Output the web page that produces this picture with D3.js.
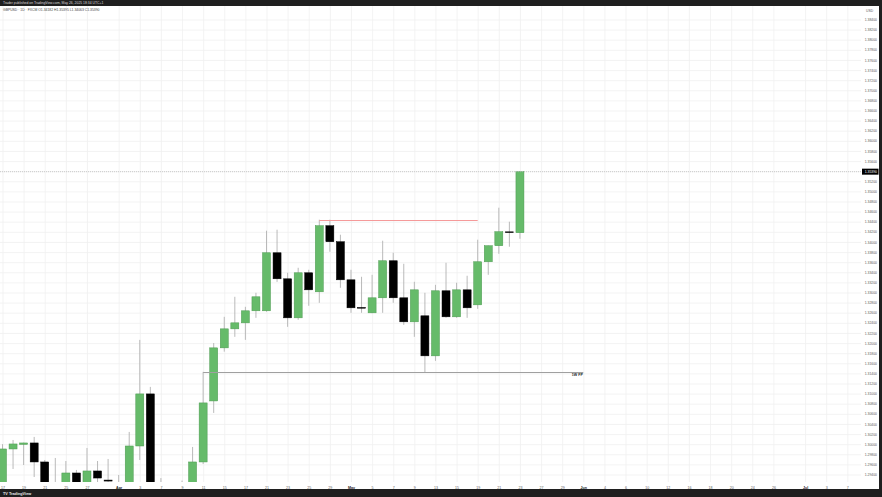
<!DOCTYPE html>
<html>
<head>
<meta charset="utf-8">
<script src="https://cdn.jsdelivr.net/npm/d3@7"></script>
<style>
  body { margin: 0; background: #1e1e1e; }
  svg { display: block; font-family: "Liberation Sans", Arial, sans-serif; }
</style>
</head>
<body>
<div id="viz"></div>
<script>
// GBPUSD daily candles, Mar 17 -> May 23 2025 (one value per trading day)
var opens = [
  1.29180, 1.29905, 1.29995, 1.30024, 1.29648,
  1.29160, 1.29200, 1.29430, 1.28900, 1.29470,
  1.29290, 1.29160, 1.29170, 1.29964, 1.30994,
  1.28900, 1.27230, 1.27650, 1.28000, 1.29648,
  1.30855, 1.31905, 1.32281, 1.32400, 1.32638,
  1.32638, 1.33786, 1.33271, 1.32499, 1.33390,
  1.33014, 1.34321, 1.34004, 1.33251, 1.32705,
  1.32598, 1.32895, 1.33628, 1.32895, 1.32420,
  1.32539, 1.31747, 1.33034, 1.32519, 1.33053,
  1.32756, 1.33608, 1.33925, 1.34200, 1.34182
]
var highs = [
  1.30000, 1.30083, 1.30030, 1.30143, 1.29687,
  1.29727, 1.29667, 1.29490, 1.29925, 1.29667,
  1.29707, 1.29390, 1.30242, 1.32063, 1.31133,
  1.29330, 1.28800, 1.29280, 1.29945, 1.31430,
  1.32000, 1.32519, 1.32915, 1.32717, 1.32994,
  1.34222, 1.34242, 1.33390, 1.33489, 1.33450,
  1.34440, 1.34440, 1.34143, 1.33450, 1.33311,
  1.33350, 1.34024, 1.33786, 1.33568, 1.33212,
  1.32994, 1.33152, 1.33588, 1.33192, 1.33331,
  1.34044, 1.33930, 1.34677, 1.34400, 1.35395
]
var lows = [
  1.29050, 1.29509, 1.29588, 1.29350, 1.28860,
  1.28900, 1.29100, 1.28600, 1.28700, 1.29150,
  1.29000, 1.28770, 1.28750, 1.29687, 1.28600,
  1.27110, 1.27120, 1.27090, 1.27900, 1.29608,
  1.30618, 1.31830, 1.32123, 1.32063, 1.32499,
  1.32620, 1.33210, 1.32321, 1.32460, 1.32737,
  1.32796, 1.33806, 1.33093, 1.32598, 1.32598,
  1.32590, 1.32598, 1.32796, 1.32360, 1.32123,
  1.31410, 1.31648, 1.32500, 1.32499, 1.32499,
  1.32677, 1.33350, 1.33766, 1.33905, 1.34063
]
var closes = [
  1.29905, 1.30004, 1.30024, 1.29648, 1.29160,
  1.29200, 1.29430, 1.28900, 1.29470, 1.29330,
  1.29270, 1.29170, 1.29964, 1.30994, 1.28900,
  1.27230, 1.27650, 1.28000, 1.29648, 1.30816,
  1.31905, 1.32281, 1.32400, 1.32638, 1.32915,
  1.33786, 1.33271, 1.32499, 1.33390, 1.33053,
  1.34321, 1.34004, 1.33251, 1.32697, 1.32695,
  1.32895, 1.33628, 1.32895, 1.32420, 1.33053,
  1.31747, 1.33034, 1.32519, 1.33053, 1.32697,
  1.33608, 1.33925, 1.34202, 1.34190, 1.35390
]

// date axis labels
var tickDates = ["2025-03-17","2025-03-19","2025-03-21","2025-03-25","2025-03-27","2025-04-01","2025-04-03","2025-04-07","2025-04-09","2025-04-11",
  "2025-04-15","2025-04-17","2025-04-21","2025-04-23","2025-04-25","2025-04-29","2025-05-01","2025-05-05","2025-05-07","2025-05-09",
  "2025-05-13","2025-05-15","2025-05-19","2025-05-21","2025-05-23","2025-05-27","2025-05-29","2025-06-02","2025-06-04","2025-06-06",
  "2025-06-10","2025-06-12","2025-06-16","2025-06-18","2025-06-20","2025-06-24","2025-06-26","2025-07-01","2025-07-03","2025-07-07"]
var tickLabels = ["17","19","21","25","27","Apr","3","7","9","11",
  "15","17","21","23","25","29","May","5","7","9",
  "13","15","19","21","23","27","29","Jun","4","6",
  "10","12","16","18","20","24","26","Jul","3","7"]

// drawn levels
var levelNames = ["", "1W FP"]
var levelPrices = [1.34440, 1.31430]
var levelFrom = ["2025-04-28", "2025-04-11"]
var levelTo = ["2025-05-19", "2025-06-02"]
var levelColors = ["#f59a9a", "#a0a0a0"]

var fmtKey = d3.timeFormat("%Y-%m-%d")
var days = d3.timeDay.range(new Date(2025, 2, 17), new Date(2025, 6, 8))
  .filter((d) => d.getDay() !== 0 && d.getDay() !== 6)
  .map(fmtKey)

var data = opens.map((o, i) => ({
  date: days[i], open: o, high: highs[i], low: lows[i], close: closes[i]
}))

var W = 882, H = 497
var plotTop = 6, plotBottom = 482, plotRight = 861

var svg = d3.select('#viz').append('svg')
  .attr('width', W)
  .attr('height', H)

svg.append('rect').attr('width', W).attr('height', H).attr('fill', '#1f1f1f')
svg.append('rect').attr('x', 0).attr('y', plotTop).attr('width', 879).attr('height', 489 - plotTop).attr('fill', '#ffffff')

svg.append('defs').append('clipPath').attr('id', 'plot')
  .append('rect').attr('x', 0).attr('y', plotTop).attr('width', plotRight).attr('height', plotBottom - plotTop)

var xScale = d3.scalePoint()
  .domain(days)
  .range([2.5, 847.3])

var yScale = d3.scaleLinear()
  .domain([1.294, 1.384])
  .range([474.5, 19.5])

var priceTicks = d3.range(0, 46).map((k) => +(1.294 + k * 0.002).toFixed(3))

// grid
var grid = svg.append('g').attr('clip-path', 'url(#plot)')
grid.append('g')
  .attr('transform', `translate(0, ${plotBottom})`)
  .call(d3.axisBottom(xScale).tickValues(tickDates).tickSize(-(plotBottom - plotTop)).tickFormat(''))
  .call((g) => g.select('.domain').remove())
  .call((g) => g.selectAll('line').attr('stroke', '#f0f0f0').attr('stroke-width', 0.8))
grid.append('g')
  .attr('transform', `translate(${plotRight}, 0)`)
  .call(d3.axisLeft(yScale).tickValues(priceTicks).tickSize(plotRight).tickFormat(''))
  .call((g) => g.select('.domain').remove())
  .call((g) => g.selectAll('line').attr('stroke', '#f0f0f0').attr('stroke-width', 0.8))

// date labels
svg.append('g')
  .attr('transform', `translate(0, ${plotBottom})`)
  .call(d3.axisBottom(xScale).tickValues(tickDates).tickSize(0).tickPadding(4)
    .tickFormat((d) => tickLabels[tickDates.indexOf(d)]))
  .call((g) => g.select('.domain').remove())
  .call((g) => g.selectAll('text')
    .attr('font-size', 3.6)
    .attr('font-family', '"Liberation Sans", Arial, sans-serif')
    .attr('fill', (d) => isNaN(+tickLabels[tickDates.indexOf(d)]) ? '#222' : '#5a5a5a')
    .attr('font-weight', (d) => isNaN(+tickLabels[tickDates.indexOf(d)]) ? 'bold' : 'normal'))

// price labels
svg.append('g')
  .attr('transform', `translate(877, 0)`)
  .call(d3.axisLeft(yScale).tickValues(priceTicks).tickSize(0).tickPadding(0).tickFormat(d3.format('.5f')))
  .call((g) => g.select('.domain').remove())
  .call((g) => g.selectAll('text')
    .attr('font-size', 3.4)
    .attr('font-family', '"Liberation Sans", Arial, sans-serif')
    .attr('fill', '#5a5a5a'))

svg.append('text')
  .attr('x', 866).attr('y', 11.5)
  .attr('font-size', 3.4).attr('fill', '#5a5a5a')
  .text('USD')

// candles
var chart = svg.append('g').attr('clip-path', 'url(#plot)')
var bw = 8

var candles = chart.selectAll('.candle')
  .data(data)
  .enter()
  .append('g')
  .attr('class', 'candle')

candles.append('line')
  .attr('x1', (d) => xScale(d.date))
  .attr('x2', (d) => xScale(d.date))
  .attr('y1', (d) => yScale(d.high))
  .attr('y2', (d) => yScale(d.low))
  .attr('stroke', '#a8a8a8')
  .attr('stroke-width', 0.8)

candles.append('rect')
  .attr('x', (d) => xScale(d.date) - bw / 2)
  .attr('width', bw)
  .attr('y', (d) => yScale(Math.max(d.open, d.close)))
  .attr('height', (d) => Math.max(0.8, Math.abs(yScale(d.open) - yScale(d.close))))
  .attr('fill', (d) => d.close >= d.open ? '#66bb6a' : '#000000')
  .attr('stroke', (d) => d.close >= d.open ? '#4c9a50' : '#000000')
  .attr('stroke-width', 0.5)

// levels
levelPrices.forEach((p, i) => {
  var y = Math.round(yScale(p)) + 0.5
  chart.append('line')
    .attr('x1', xScale(levelFrom[i]))
    .attr('x2', xScale(levelTo[i]))
    .attr('y1', y)
    .attr('y2', y)
    .attr('stroke', levelColors[i])
    .attr('stroke-width', 1)
  if (levelNames[i]) {
    svg.append('text')
      .attr('x', xScale(levelTo[i]) - 6)
      .attr('y', y + 3.5)
      .attr('text-anchor', 'middle')
      .attr('font-size', 3.6)
      .attr('font-weight', 'bold')
      .attr('fill', '#131722')
      .text(levelNames[i])
  }
})

// last price line + label
var last = data[data.length - 1]
var yLast = yScale(last.close)
chart.append('line')
  .attr('x1', 0).attr('x2', plotRight)
  .attr('y1', yLast).attr('y2', yLast)
  .attr('stroke', '#b8b8b8')
  .attr('stroke-width', 0.7)
  .attr('stroke-dasharray', '1,1')

svg.append('rect')
  .attr('x', 862).attr('y', yLast - 3)
  .attr('width', 16.5).attr('height', 6)
  .attr('fill', '#000')
svg.append('text')
  .attr('x', 877).attr('y', yLast + 1.2)
  .attr('text-anchor', 'end')
  .attr('font-size', 3.4).attr('fill', '#fff')
  .text(d3.format('.5f')(last.close))

// header and legend
svg.append('text')
  .attr('x', 3).attr('y', 4.4)
  .attr('font-size', 3.4).attr('fill', '#d8d8d8')
  .text('Trader published on TradingView.com, May 26, 2025 18:34 UTC+1')

var f5 = d3.format('.5f')
svg.append('text')
  .attr('x', 3).attr('y', 10.8)
  .attr('font-size', 3.4).attr('fill', '#444')
  .text(`GBPUSD · 1D · FXCM   O${f5(last.open)}  H${f5(last.high)}  L${f5(last.low)}  C${f5(last.close)}`)

// footer
svg.append('text')
  .attr('x', 3).attr('y', 494.5)
  .attr('font-size', 3.8).attr('fill', '#e8e8e8')
  .attr('font-weight', 'bold')
  .text('TV TradingView')
</script>
</body>
</html>
